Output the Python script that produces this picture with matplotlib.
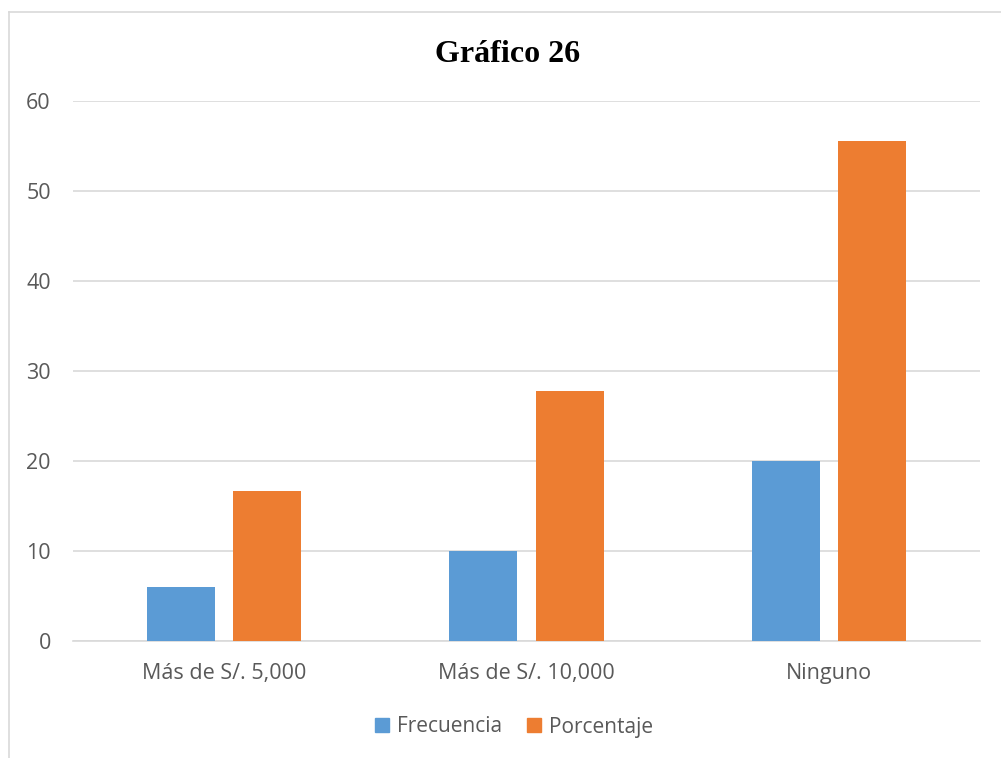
import matplotlib.pyplot as plt
import matplotlib.patches as mpatches
import numpy as np

# datos del grafico
categorias = ["Más de S/. 5,000", "Más de S/. 10,000", "Ninguno"]
frecuencia = [6, 10, 20]
porcentaje = [16.67, 27.78, 55.56]

azul = "#5B9BD5"
naranja = "#ED7D31"
gris = "#595959"

plt.rcParams['font.family'] = ['Open Sans', 'DejaVu Sans']

fig = plt.figure(figsize=(10.01, 7.58), dpi=100)
ax = fig.add_axes([73 / 1001, 1 - 641 / 758, (980 - 73) / 1001, (641 - 101) / 758])

x = np.arange(len(categorias))
ancho = 0.225
ax.bar(x - 0.143, frecuencia, width=ancho, color=azul, label="Frecuencia", zorder=3)
ax.bar(x + 0.143, porcentaje, width=ancho, color=naranja, label="Porcentaje", zorder=3)

ax.set_xlim(-0.5, 2.5)
ax.set_ylim(0, 60)
ax.set_yticks(range(0, 61, 10))
ax.set_xticks(x)
ax.set_xticklabels(categorias)
ax.grid(axis='y', color='#d9d9d9', linewidth=1.2, zorder=0)
for s in ['top', 'right', 'left']:
    ax.spines[s].set_visible(False)
ax.spines['bottom'].set_color('#d9d9d9')
ax.spines['bottom'].set_linewidth(1.2)
ax.tick_params(axis='both', length=0, labelsize=15.5, labelcolor=gris)
ax.tick_params(axis='y', pad=16)
ax.tick_params(axis='x', pad=16)

fig.text(508 / 1001, 1 - 54 / 758, "Gráfico 26", ha='center', va='center',
         fontsize=23, fontweight='bold', family=['Liberation Serif', 'DejaVu Serif'])

# borde del grafico
fig.add_artist(plt.Line2D([9 / 1001, 9 / 1001], [0, 1 - 12 / 758], color='#d9d9d9', linewidth=1.2))
fig.add_artist(plt.Line2D([9 / 1001, 1], [1 - 12 / 758, 1 - 12 / 758], color='#d9d9d9', linewidth=1.2))

h = [mpatches.Patch(color=azul), mpatches.Patch(color=naranja)]
fig.legend(h, ["Frecuencia", "Porcentaje"], loc='center', bbox_to_anchor=(514 / 1001, 1 - 727 / 758),
           ncol=2, frameon=False, fontsize=15, labelcolor=gris, handlelength=0.65, handleheight=0.65,
           handletextpad=0.4, columnspacing=1.2, borderpad=0)

plt.savefig("out.png", dpi=100)
